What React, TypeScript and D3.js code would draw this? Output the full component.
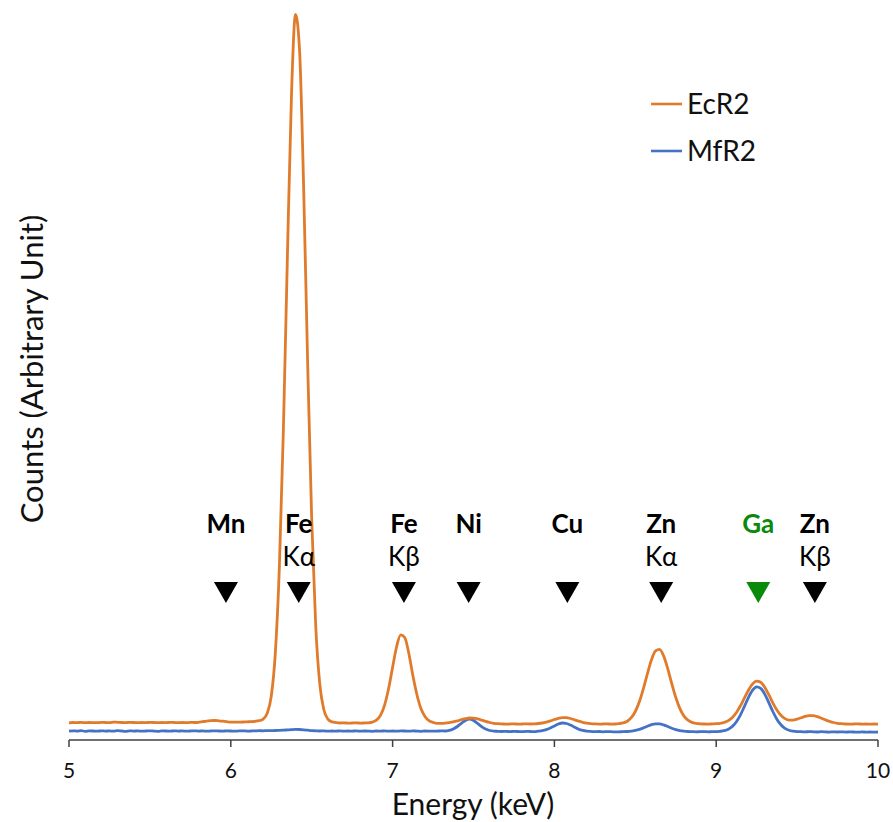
import React from "react";
import * as d3 from "d3";

// spectra sampled every 0.025 keV from 5 to 10 keV (counts, arbitrary unit)
const energyStart = 5;
const energyStep = 0.025;

const ecr2 = [
  17.2, 17.5, 17.4, 17.6, 17.3, 17.5, 17.4, 17.3, 17.6, 17.5,
  17.4, 17.9, 17.7, 17.5, 17.4, 17.6, 17.5, 17.3, 17.5, 17.4,
  17.6, 17.5, 17.3, 17.5, 17.4, 17.6, 17.5, 17.4, 17.5, 17.3,
  17.6, 17.5, 17.7, 18.3, 18.9, 19.3, 19.5, 19.2, 18.8, 18.3,
  17.9, 17.8, 17.9, 18.0, 18.2, 18.4, 18.7, 19.3, 20.9, 26.7,
  43.8, 86.4, 172.0, 310.2, 484.6, 644.8, 725.5, 689.7, 553.9, 377.0,
  220.5, 113.7, 55.8, 30.2, 20.9, 18.1, 17.4, 17.0, 17.1, 16.9,
  17.0, 17.1, 16.9, 17.0, 17.2, 17.9, 19.8, 24.6, 34.6, 51.2,
  72.8, 93.5, 105.2, 102.5, 86.7, 64.7, 45.5, 31.5, 23.5, 19.3,
  17.6, 16.7, 16.7, 16.9, 17.4, 18.1, 19.1, 20.3, 21.4, 22.0,
  21.9, 21.1, 19.9, 18.6, 17.5, 16.7, 16.3, 16.1, 15.9, 16.0,
  16.1, 15.9, 16.0, 16.1, 16.0, 16.2, 16.5, 17.0, 17.9, 19.1,
  20.5, 21.7, 22.4, 22.4, 21.5, 20.2, 18.8, 17.7, 16.9, 16.4,
  16.1, 15.9, 16.0, 16.1, 15.9, 16.0, 16.4, 17.1, 18.8, 22.3,
  28.5, 38.2, 51.4, 66.4, 80.2, 89.1, 90.6, 84.1, 71.6, 56.6,
  42.7, 31.6, 24.1, 19.9, 17.6, 16.6, 16.2, 16.0, 15.9, 16.1,
  16.3, 16.7, 17.6, 19.4, 22.6, 27.5, 34.2, 42.1, 50.0, 56.1,
  58.9, 57.7, 52.7, 45.3, 37.2, 30.0, 24.7, 21.4, 19.9, 19.9,
  20.9, 22.2, 23.7, 24.4, 24.3, 23.3, 21.8, 20.1, 18.7, 17.5,
  16.7, 16.3, 16.0, 15.9, 16.0, 16.1, 15.9, 16.0, 15.9, 16.0,
  15.9,
];

const mfr2 = [
  8.8, 9.2, 8.9, 9.3, 8.7, 9.1, 9.0, 8.8, 9.2, 8.9,
  9.1, 8.8, 9.3, 9.0, 8.7, 9.2, 8.9, 9.1, 8.8, 9.0,
  9.2, 8.9, 8.7, 9.1, 9.0, 8.8, 9.2, 8.9, 9.1, 8.8,
  9.0, 9.2, 8.9, 9.1, 8.8, 9.0, 9.2, 9.0, 8.9, 9.1,
  9.0, 8.8, 9.1, 9.2, 8.9, 9.0, 9.1, 9.3, 9.2, 9.4,
  9.3, 9.5, 9.6, 9.8, 10.1, 10.4, 10.6, 10.5, 10.2, 9.8,
  9.4, 9.2, 9.0, 9.1, 8.8, 9.0, 8.9, 9.1, 8.8, 9.0,
  8.9, 9.1, 8.8, 9.0, 8.9, 8.7, 9.0, 8.9, 9.1, 8.8,
  9.0, 8.8, 9.1, 9.0, 8.8, 9.1, 8.9, 8.7, 9.0, 8.9,
  8.8, 8.9, 9.1, 9.0, 9.6, 11.1, 13.5, 16.7, 19.6, 20.8,
  19.5, 16.6, 13.4, 10.9, 9.5, 8.9, 8.7, 8.5, 8.6, 8.4,
  8.6, 8.5, 8.3, 8.6, 8.5, 8.4, 8.8, 9.3, 10.3, 12.0,
  14.1, 16.0, 17.0, 16.5, 14.9, 12.8, 10.8, 9.6, 8.9, 8.6,
  8.3, 8.5, 8.2, 8.4, 8.3, 8.1, 8.2, 8.3, 8.5, 8.9,
  9.6, 10.6, 12.1, 13.8, 15.4, 16.2, 16.1, 15.1, 13.5, 11.8,
  10.4, 9.4, 8.8, 8.5, 8.4, 8.2, 8.3, 8.4, 8.2, 8.3,
  8.3, 8.7, 9.4, 10.8, 13.6, 18.3, 25.2, 33.8, 42.7, 49.8,
  53.2, 51.7, 45.9, 37.4, 28.5, 20.8, 15.2, 11.7, 9.8, 8.9,
  8.4, 8.3, 8.1, 8.4, 8.2, 8.0, 8.3, 8.1, 7.9, 8.2,
  8.0, 8.2, 7.9, 8.1, 8.0, 7.8, 8.1, 7.9, 8.0, 7.8,
  8.0,
];

const seriesNames = ["EcR2", "MfR2"];
const xTicks = [5, 6, 7, 8, 9, 10];

// element markers above the peaks
const markerElements = ["Mn", "Fe", "Fe", "Ni", "Cu", "Zn", "Ga", "Zn"];
const markerLines = ["", "Kα", "Kβ", "", "", "Kα", "", "Kβ"];
const markerEnergies = [5.97, 6.42, 7.07, 7.47, 8.08, 8.66, 9.26, 9.61];

const font = "Lato, 'Open Sans', sans-serif";
const orange = "#E17B2C";
const blue = "#4472C4";
const green = "#0A8A0A";

export default function App() {
  const width = 893;
  const height = 822;
  const axisY = 740;

  const x = d3.scaleLinear().domain([5, 10]).range([69, 878]);
  const y = d3.scaleLinear().domain([0, 730]).range([axisY, axisY - 730]);

  const line = d3
    .line<number>()
    .x((_, i) => x(energyStart + i * energyStep))
    .y((d) => y(d))
    .curve(d3.curveMonotoneX);

  const series = [
    { name: seriesNames[0], values: ecr2, color: orange },
    { name: seriesNames[1], values: mfr2, color: blue },
  ];

  return (
    <div style={{ position: "absolute", left: 0, top: 0 }}>
      <svg width={width} height={height} style={{ display: "block", background: "#fff" }}>
        {/* spectra (blue below, orange on top) */}
        {series
          .slice()
          .reverse()
          .map((s) => (
            <path
              key={s.name}
              d={line(s.values) || ""}
              fill="none"
              stroke={s.color}
              strokeWidth={2.8}
              strokeLinejoin="round"
            />
          ))}

        {/* x axis */}
        <line x1={x(5)} x2={x(10)} y1={axisY} y2={axisY} stroke="#404040" strokeWidth={1.5} />
        {xTicks.map((t) => (
          <g key={t}>
            <line x1={x(t)} x2={x(t)} y1={axisY} y2={axisY + 7} stroke="#404040" strokeWidth={1.5} />
            <text
              x={x(t)}
              y={778}
              textAnchor="middle"
              fontFamily={font}
              fontSize={21}
              fill="#111"
            >
              {t}
            </text>
          </g>
        ))}
        <text x={473} y={815} textAnchor="middle" fontFamily={font} fontSize={30} fill="#111">
          Energy (keV)
        </text>
        <text
          transform="translate(43,369) rotate(-90)"
          textAnchor="middle"
          fontFamily={font}
          fontSize={31}
          fill="#111"
        >
          Counts (Arbitrary Unit)
        </text>

        {/* element markers */}
        {markerEnergies.map((e, i) => {
          const cx = x(e);
          const c = markerElements[i] === "Ga" ? green : "#000";
          return (
            <g key={i}>
              <text
                x={cx}
                y={533}
                textAnchor="middle"
                fontFamily={font}
                fontWeight="bold"
                fontSize={26}
                fill={c}
              >
                {markerElements[i]}
              </text>
              {markerLines[i] && (
                <text x={cx} y={566} textAnchor="middle" fontFamily={font} fontSize={26} fill="#000">
                  {markerLines[i]}
                </text>
              )}
              <path d={`M${cx - 12},582L${cx + 12},582L${cx},603Z`} fill={c} />
            </g>
          );
        })}

        {/* legend */}
        {series.map((s, i) => (
          <g key={s.name} transform={`translate(651,${104 + i * 47})`}>
            <line x1={0} x2={31} y1={0} y2={0} stroke={s.color} strokeWidth={2.6} />
            <text x={36} y={10} fontFamily={font} fontSize={28} fill="#111">
              {s.name}
            </text>
          </g>
        ))}
      </svg>
    </div>
  );
}
